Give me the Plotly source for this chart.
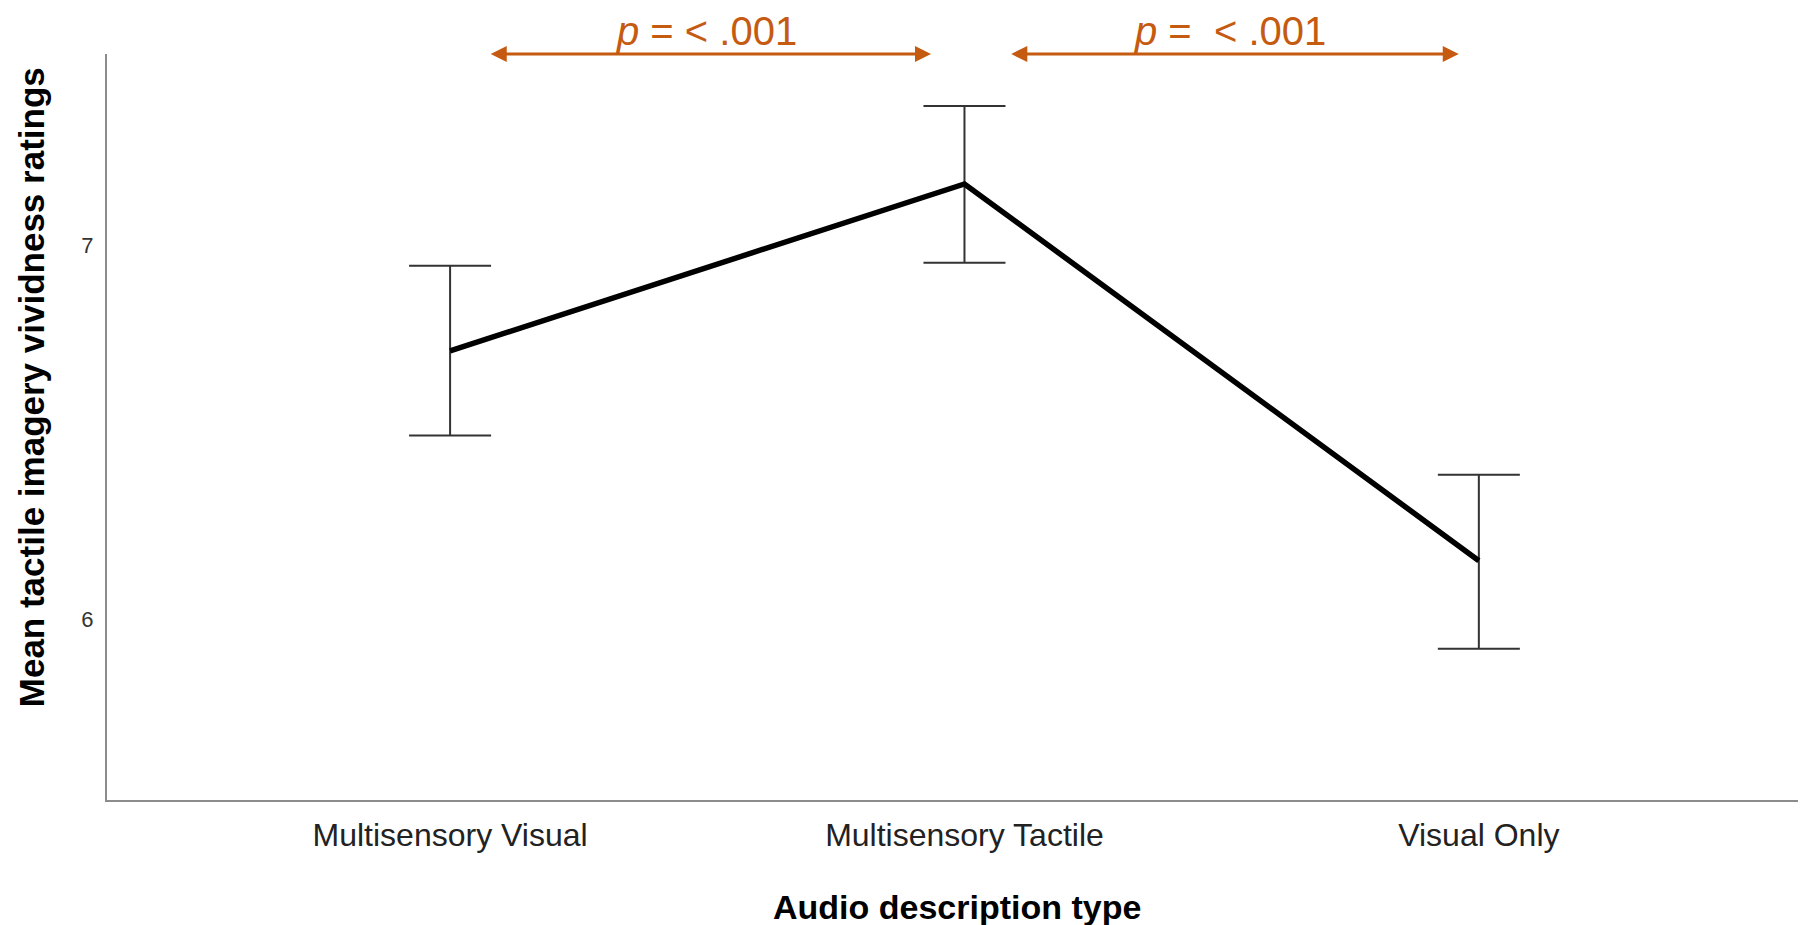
import plotly.graph_objects as go

# ---- data ----
categories = ["Multisensory Visual", "Multisensory Tactile", "Visual Only"]
cat_pos = [0, 1, 2]
means = [6.718, 7.165, 6.156]
upper = [6.946, 7.374, 6.386]
lower = [6.491, 6.954, 5.920]
y_ticks = [6, 7]
y_ticklabels = ["6", "7"]

# significance brackets (x in category units)
brackets_start = [0.076, 1.088]
brackets_end = [0.935, 1.961]
bracket_text_x = [0.498, 1.517]
bracket_labels = ["<i>p</i> = < .001", "<i>p</i> =\u00a0 < .001"]

err_plus = [u - m for u, m in zip(upper, means)]
err_minus = [m - l for m, l in zip(means, lower)]

ORANGE = "#C55A11"
FONT = "Liberation Sans, Arial, sans-serif"

fig = go.Figure()
# error bars (drawn beneath the line)
fig.add_trace(go.Scatter(
    x=cat_pos, y=means, mode="markers",
    marker=dict(size=1, color="rgba(0,0,0,0)"),
    error_y=dict(type="data", symmetric=False, array=err_plus, arrayminus=err_minus,
                 color="#333333", thickness=2, width=41),
    showlegend=False, hoverinfo="skip",
))
fig.add_trace(go.Scatter(
    x=cat_pos, y=means, mode="lines",
    line=dict(color="black", width=5.5),
    showlegend=False,
))

Y_TOP = 7.513
annotations = []
for xs, xe, tx, lab in zip(brackets_start, brackets_end, bracket_text_x, bracket_labels):
    annotations.append(dict(
        x=xe, y=Y_TOP, ax=xs, ay=Y_TOP, xref="x", yref="y", axref="x", ayref="y",
        showarrow=True, arrowhead=2, startarrowhead=2, arrowside="end+start",
        arrowwidth=3, arrowsize=1.07, startarrowsize=1.07, arrowcolor=ORANGE,
        text="", standoff=0, startstandoff=0,
    ))
    annotations.append(dict(
        x=tx, y=1.0, xref="x", yref="paper", yshift=23, borderpad=0,
        text=lab, showarrow=False, xanchor="center", yanchor="middle",
        font=dict(family=FONT, size=40, color=ORANGE),
    ))

# axis titles
annotations.append(dict(
    x=-0.0446, y=0.5536, xref="paper", yref="paper",
    text="<b>Mean tactile imagery vividness ratings</b>", textangle=-90,
    showarrow=False, xanchor="center", yanchor="middle",
    font=dict(family=FONT, size=35, color="black"),
))
annotations.append(dict(
    x=0.5, y=-0.144, xref="paper", yref="paper",
    text="<b>Audio description type</b>",
    showarrow=False, xanchor="center", yanchor="middle",
    font=dict(family=FONT, size=34, color="black"),
))

fig.update_layout(
    width=1798, height=917,
    margin=dict(l=99, r=0, t=46, b=125),
    paper_bgcolor="white", plot_bgcolor="white",
    annotations=annotations,
    xaxis=dict(
        range=[-0.667, 2.636], tickvals=cat_pos, ticktext=categories,
        showgrid=False, zeroline=False, showline=True, linecolor="#8c8c8c", linewidth=2,
        ticks="outside", ticklen=6, tickcolor="rgba(0,0,0,0)",
        tickfont=dict(family=FONT, size=32, color="#222222"),
    ),
    yaxis=dict(
        range=[5.515, Y_TOP], tickvals=y_ticks, ticktext=y_ticklabels,
        showgrid=False, zeroline=False, showline=True, linecolor="#8c8c8c", linewidth=2,
        ticks="outside", ticklen=7, tickcolor="rgba(0,0,0,0)",
        tickfont=dict(family=FONT, size=22, color="#333333"),
    ),
)

fig.write_html("out.html")
